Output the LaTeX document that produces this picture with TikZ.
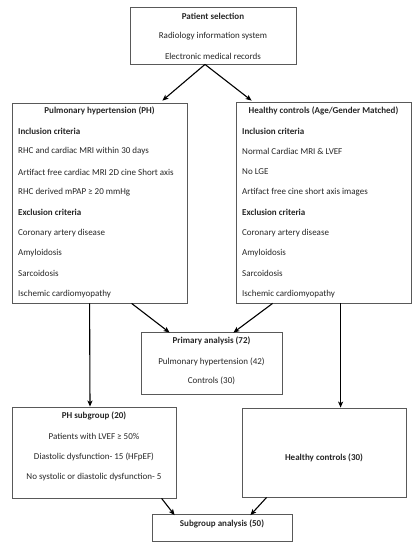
\documentclass[tikz,border=0pt]{standalone}
\usepackage{fontspec}
\setmainfont{Carlito}
\usetikzlibrary{calc,arrows.meta}
\begin{document}
\begin{tikzpicture}[x=1pt,y=-1pt,
  box/.style={draw=black!65,line width=0.8pt,rectangle,inner sep=0pt},
  txt/.style={inner sep=0pt,font=\fontsize{9}{11}\selectfont,text=black!85},
  ttl/.style={txt,font=\fontsize{9}{11}\selectfont\bfseries},
  arr/.style={draw=black,line width=1.1pt,-{Stealth[length=6pt,width=5pt,inset=1.5pt]}}]
\useasboundingbox (0,0) rectangle (413,550);
% boxes
\node[box,minimum width=166pt,minimum height=57pt] (top) at (213,35.5) {};
\node[box,minimum width=175pt,minimum height=200pt] (ph) at (99.5,203) {};
\node[box,minimum width=175pt,minimum height=201pt] (hc) at (323.5,202.5) {};
\node[box,minimum width=141pt,minimum height=62pt] (prim) at (211.5,363) {};
\node[box,minimum width=164pt,minimum height=91pt] (phs) at (94,452.5) {};
\node[box,minimum width=164pt,minimum height=89pt] (hc2) at (324,452.5) {};
\node[box,minimum width=140pt,minimum height=27pt] (sub) at (222,527.5) {};
% top texts
\node[ttl] (t1) at (213,16) {Patient selection};
\node[txt] (t2) at (213,36) {Radiology information system};
\node[txt] (t3) at (213,56) {Electronic medical records};
% PH texts
\node[ttl] (p0) at (99.5,111) {Pulmonary hypertension (PH)};
\node[ttl,anchor=west] (p1) at (18,131) {Inclusion criteria};
\node[txt,anchor=west] (p2) at (18,151.5) {RHC and cardiac MRI within 30 days};
\node[txt,anchor=west] (p3) at (18,172) {Artifact free cardiac MRI 2D cine Short axis};
\node[txt,anchor=west] (p4) at (18,192) {RHC derived mPAP ≥ 20 mmHg};
\node[ttl,anchor=west] (p5) at (18,212.5) {Exclusion criteria};
\node[txt,anchor=west] (p6) at (18,233) {Coronary artery disease};
\node[txt,anchor=west] (p7) at (18,253.5) {Amyloidosis};
\node[txt,anchor=west] (p8) at (18,273.5) {Sarcoidosis};
\node[txt,anchor=west] (p9) at (18,294) {Ischemic cardiomyopathy};
% HC texts
\node[ttl] (h0) at (323.5,111) {Healthy controls (Age/Gender Matched)};
\node[ttl,anchor=west] (h1) at (242,131) {Inclusion criteria};
\node[txt,anchor=west] (h2) at (242,151.5) {Normal Cardiac MRI \& LVEF};
\node[txt,anchor=west] (h3) at (242,172) {No LGE};
\node[txt,anchor=west] (h4) at (242,192) {Artifact free cine short axis images};
\node[ttl,anchor=west] (h5) at (242,212.5) {Exclusion criteria};
\node[txt,anchor=west] (h6) at (242,233) {Coronary artery disease};
\node[txt,anchor=west] (h7) at (242,253.5) {Amyloidosis};
\node[txt,anchor=west] (h8) at (242,273.5) {Sarcoidosis};
\node[txt,anchor=west] (h9) at (242,294) {Ischemic cardiomyopathy};
% primary
\node[ttl] (r1) at (211.5,341) {Primary analysis (72)};
\node[txt] (r2) at (211.5,361.5) {Pulmonary hypertension (42)};
\node[txt] (r3) at (211.5,381) {Controls (30)};
% PH subgroup
\node[ttl] (s1) at (94,416) {PH subgroup (20)};
\node[txt] (s2) at (94,436.5) {Patients with LVEF ≥ 50\%};
\node[txt] (s3) at (94,457) {Diastolic dysfunction- 15 (HFpEF)};
\node[txt] (s4) at (94,477) {No systolic or diastolic dysfunction- 5};
% healthy controls 30
\node[ttl] (c1) at (324,458) {Healthy controls (30)};
% subgroup analysis
\node[ttl] (g1) at (222,523.5) {Subgroup analysis (50)};
% connectors
\draw[arr] ([xshift=-8pt]top.south) -- ([xshift=-25pt,yshift=2pt]ph.north east);
\draw[arr] ([xshift=-8pt]top.south) -- ([xshift=16pt,yshift=1pt]hc.north west);
\draw[arr] ([xshift=78pt]ph.south west) -- ([xshift=-4pt]phs.north);
\draw[arr] ([xshift=120pt]ph.south west) -- ([xshift=29pt,yshift=-1pt]prim.north west);
\draw[arr] ([xshift=37pt]hc.south west) -- ([xshift=-49pt,yshift=-1pt]prim.north east);
\draw[arr] ([xshift=105pt]hc.south west) -- ([xshift=99pt]hc2.north west);
\draw[arr] ([xshift=150pt]phs.south west) -- ([xshift=23pt,yshift=-1.5pt]sub.north west);
\draw[arr] ([xshift=25pt]hc2.south west) -- ([xshift=-42pt,yshift=-1.5pt]sub.north east);
\end{tikzpicture}
\end{document}
